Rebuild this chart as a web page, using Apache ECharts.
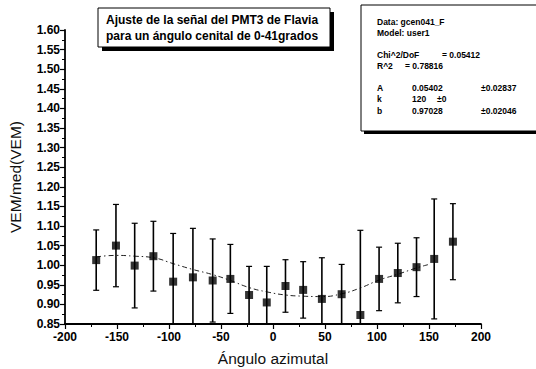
<!DOCTYPE html>
<html><head><meta charset="utf-8">
<script src="https://cdn.jsdelivr.net/npm/echarts@6/dist/echarts.min.js"></script>
<style>html,body{margin:0;padding:0;background:#fff}#c{width:536px;height:369px}</style>
</head><body><div id="c"></div>
<script>
// Measured data points (azimuth angle, VEM/med(VEM), error half-length)
const azimuth = [-170,-151,-133,-115,-96,-77,-58,-41,-23,-6,12,29,47,66,84,102,120,138,155,173];
const vemRatio = [1.013,1.050,0.999,1.023,0.958,0.969,0.961,0.965,0.924,0.905,0.947,0.937,0.914,0.926,0.873,0.965,0.980,0.995,1.016,1.060];
const vemError = [0.077,0.105,0.108,0.089,0.123,0.125,0.106,0.088,0.073,0.092,0.067,0.072,0.105,0.076,0.216,0.081,0.076,0.075,0.153,0.097];
// Fitted curve
const fitX = [-170,-151,-133,-115,-96,-77,-58,-41,-23,-6,12,29,47,66,84,102,120,138,150];
const fitY = [1.021,1.025,1.023,1.019,1.004,0.989,0.976,0.961,0.943,0.932,0.924,0.921,0.920,0.927,0.942,0.962,0.977,0.993,1.002];
const titleLines = ['Ajuste de la señal del PMT3 de Flavia','para un ángulo cenital de 0-41grados'];
const infoRows = [
  ['Data: gcen041_F'],['Model: user1'],[],
  ['Chi^2/DoF','= 0.05412'],['R^2','= 0.78816'],[],
  ['A','0.05402','±0.02837'],['k','120','±0'],['b','0.97028','±0.02046']
];

const chart = echarts.init(document.getElementById('c'), null, {renderer:'svg'});
const F = '"Liberation Sans", Arial, sans-serif';
const pts = azimuth.map((x,i)=>[x, vemRatio[i]]);
const errs = azimuth.map((x,i)=>[x, vemRatio[i]-vemError[i], vemRatio[i]+vemError[i]]);
const fit = fitX.map((x,i)=>[x, fitY[i]]);

const graphics = [];
// title box with shadow
graphics.push({type:'rect', shape:{x:102,y:12,width:232,height:39}, style:{fill:'#000'}, z:10});
graphics.push({type:'rect', shape:{x:98,y:8,width:232,height:39}, style:{fill:'#fff',stroke:'#000',lineWidth:1}, z:11});
graphics.push({type:'text', left:106, top:12, z:12, style:{text:titleLines.join('\n'), font:'bold 12px '+F, fill:'#000', lineHeight:16}});
// info box
graphics.push({type:'rect', shape:{x:364,y:10,width:180,height:124}, style:{fill:'#000'}, z:10});
graphics.push({type:'rect', shape:{x:361,y:5,width:180,height:126}, style:{fill:'#fff',stroke:'#000',lineWidth:1}, z:11});
const colX = {1:[377],2:[377,405],3:[377,412,481]};
let yy = 17;
infoRows.forEach(r=>{
  if (r.length===0){ yy += 10; return; }
  let xs = colX[r.length];
  if (r[0]==='Chi^2/DoF') xs=[377,442];
  if (r[0]==='k') xs=[377,412,437];
  r.forEach((t,j)=>graphics.push({type:'text', left:xs[j], top:yy, z:12, style:{text:t, font:'bold 8.5px '+F, fill:'#000'}}));
  yy += 11.5;
});

chart.setOption({
  animation:false,
  grid:{left:65, right:55, top:30, bottom:45, outerBoundsMode:'none', containLabel:false},
  xAxis:{type:'value', min:-200, max:200, interval:50,
    name:'Ángulo azimutal', nameLocation:'middle', nameGap:26,
    nameTextStyle:{fontFamily:F, fontSize:15.5, color:'#111'},
    axisLine:{onZero:false, lineStyle:{color:'#000', width:1.8}},
    axisTick:{length:5, lineStyle:{color:'#000', width:1.2}},
    minorTick:{show:true, splitNumber:2, length:3, lineStyle:{color:'#000'}},
    axisLabel:{fontFamily:F, fontWeight:'bold', fontSize:12, color:'#000', margin:7},
    splitLine:{show:false}},
  yAxis:{type:'value', min:0.85, max:1.60, interval:0.05,
    name:'VEM/med(VEM)', nameLocation:'middle', nameGap:42, nameRotate:90,
    nameTextStyle:{fontFamily:F, fontSize:15.5, color:'#111'},
    axisLine:{show:true, onZero:false, lineStyle:{color:'#000', width:1.8}},
    axisTick:{show:true, length:5, lineStyle:{color:'#000', width:1.2}},
    minorTick:{show:true, splitNumber:2, length:3, lineStyle:{color:'#000'}},
    axisLabel:{fontFamily:F, fontWeight:'bold', fontSize:12, color:'#000', margin:5,
      formatter:v=>v.toFixed(2)},
    splitLine:{show:false}},
  series:[
    {type:'line', data:fit, smooth:true, showSymbol:false, symbol:'none',
      lineStyle:{color:'#222', width:1, type:[5,3,1.5,3]}, z:2},
    {type:'custom', data:errs, clip:true, z:3,
      renderItem:(params, api)=>{
        const x = api.value(0);
        const lo = api.coord([x, api.value(1)]);
        const hi = api.coord([x, api.value(2)]);
        const c = 3;
        return {type:'group', children:[
          {type:'line', shape:{x1:lo[0],y1:lo[1],x2:hi[0],y2:hi[1]}, style:{stroke:'#000', lineWidth:1.6}},
          {type:'line', shape:{x1:hi[0]-c,y1:hi[1],x2:hi[0]+c,y2:hi[1]}, style:{stroke:'#000', lineWidth:1.2}},
          {type:'line', shape:{x1:lo[0]-c,y1:lo[1],x2:lo[0]+c,y2:lo[1]}, style:{stroke:'#000', lineWidth:1.2}}
        ]};
      }},
    {type:'scatter', data:pts, symbol:'rect', symbolSize:8, itemStyle:{color:'#000'}, z:4}
  ],
  graphic:graphics
});
</script></body></html>
